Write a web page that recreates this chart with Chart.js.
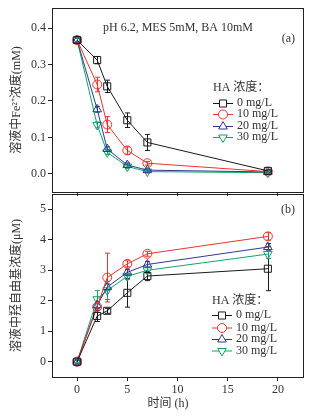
<!DOCTYPE html>
<html>
<head>
<meta charset="utf-8">
<script src="https://cdn.jsdelivr.net/npm/chart.js@4/dist/chart.umd.min.js"></script>
<style>
  body { margin: 0; background: #fff; }
  #wrap { position: relative; width: 316px; height: 416px; }
  .box { position: absolute; left: 0; width: 316px; }
</style>
</head>
<body>
<div id="wrap">
  <div class="box" style="top:0;height:198px"><canvas id="fe"></canvas></div>
  <div class="box" style="top:188px;height:228px"><canvas id="oh"></canvas></div>
</div>
<script>
// sampling times (h)
const times = [0, 2, 3, 5, 7, 19];
const seriesLabels = ['0 mg/L', '10 mg/L', '20 mg/L', '30 mg/L'];

// (a) dissolved Fe2+ (mM)
const fe0 = [0.367, 0.312, 0.240, 0.147, 0.086, 0.008];
const fe10 = [0.367, 0.245, 0.135, 0.064, 0.029, 0.006];
const fe20 = [0.367, 0.177, 0.068, 0.024, 0.010, 0.005];
const fe30 = [0.367, 0.134, 0.059, 0.020, 0.006, 0.003];
const fe0Err = [0.005, 0.010, 0.017, 0.020, 0.022, 0.004];
const fe10Err = [0.005, 0.020, 0.022, 0.010, 0.005, 0.003];
const fe20Err = [0.005, 0.008, 0.006, 0.006, 0.004, 0.003];
const fe30Err = [0.005, 0.008, 0.006, 0.006, 0.004, 0.003];

// (b) hydroxyl radical (uM)
const oh0 = [0, 1.50, 1.67, 2.26, 2.81, 3.05];
const oh10 = [0, 1.80, 2.76, 3.21, 3.54, 4.11];
const oh20 = [0, 1.85, 2.45, 2.93, 3.19, 3.76];
const oh30 = [0, 2.05, 2.34, 2.80, 3.00, 3.53];
const oh0Err = [0.05, 0.18, 0.08, 0.47, 0.15, 0.72];
const oh10Err = [0.05, 0.10, 0.80, 0.10, 0.08, 0.12];
const oh20Err = [0.05, 0.10, 0.10, 0.10, 0.10, 0.12];
const oh30Err = [0.05, 0.28, 0.30, 0.10, 0.10, 0.15];

const xTicks = [0, 5, 10, 15, 20];
const feTicks = [0, 0.1, 0.2, 0.3, 0.4];
const ohTicks = [0, 1, 2, 3, 4, 5];

const colors = ['#1a1a1a', '#e8342c', '#2e3a92', '#13a36a'];
const shapes = ['rect', 'circle', 'triangle', 'triangle'];
const turns = [0, 0, 0, 180];
const sizes = [5, 4.5, 5, 5];
const ink = '#222';
const serif = "'Liberation Serif', 'Noto Sans CJK SC', serif";

Chart.defaults.font.family = serif;
Chart.defaults.font.size = 12;
Chart.defaults.color = '#333';

function makeSets(values, errors) {
  return values.map((vals, i) => ({
    label: seriesLabels[i],
    data: vals.map((v, j) => ({ x: times[j], y: v })),
    errors: errors[i],
    borderColor: colors[i],
    borderWidth: 1,
    pointStyle: shapes[i],
    pointRotation: turns[i],
    pointRadius: sizes[i],
    pointHoverRadius: sizes[i],
    pointBorderColor: colors[i],
    pointBackgroundColor: 'rgba(0,0,0,0)',
    pointBorderWidth: 1,
    tension: 0
  }));
}

const errorBars = {
  id: 'errorBars',
  beforeDatasetsDraw(chart) {
    const { ctx, scales: { x, y } } = chart;
    chart.data.datasets.forEach(ds => {
      ctx.save();
      ctx.strokeStyle = ds.borderColor;
      ctx.lineWidth = 1;
      ds.data.forEach((p, j) => {
        const e = ds.errors[j];
        const px = Math.round(x.getPixelForValue(p.x)) + 0.5;
        const top = y.getPixelForValue(p.y + e);
        const bot = y.getPixelForValue(p.y - e);
        ctx.beginPath();
        ctx.moveTo(px, top); ctx.lineTo(px, bot);
        ctx.moveTo(px - 2.5, top); ctx.lineTo(px + 2.5, top);
        ctx.moveTo(px - 2.5, bot); ctx.lineTo(px + 2.5, bot);
        ctx.stroke();
      });
      ctx.restore();
    });
  }
};

const frame = {
  id: 'frame',
  afterDraw(chart) {
    const { ctx, chartArea: a } = chart;
    ctx.save();
    ctx.strokeStyle = ink;
    ctx.lineWidth = 1;
    ctx.strokeRect(Math.round(a.left) + 0.5, Math.round(a.top) + 0.5,
      Math.round(a.right - a.left), Math.round(a.bottom - a.top));
    ctx.restore();
  }
};

const notes = {
  id: 'notes',
  afterDraw(chart, args, opts) {
    const ctx = chart.ctx;
    (opts.items || []).forEach(t => {
      ctx.save();
      ctx.font = '12px ' + serif;
      ctx.fillStyle = '#333';
      ctx.textAlign = t.align || 'left';
      ctx.textBaseline = 'middle';
      ctx.fillText(t.text, t.x, t.y);
      ctx.restore();
    });
  }
};

const seriesKey = {
  id: 'seriesKey',
  afterDraw(chart, args, opts) {
    const ctx = chart.ctx;
    ctx.save();
    ctx.font = '12px ' + serif;
    ctx.fillStyle = '#333';
    ctx.textBaseline = 'middle';
    ctx.fillText('HA 浓度：', opts.x, opts.y);
    chart.data.datasets.forEach((ds, i) => {
      const ry = opts.rows[i];
      ctx.strokeStyle = ds.borderColor;
      ctx.lineWidth = 1;
      ctx.beginPath();
      ctx.moveTo(opts.x, ry + 0.5); ctx.lineTo(opts.x + 20, ry + 0.5);
      ctx.stroke();
      ctx.fillStyle = '#fff';
      Chart.helpers.drawPoint(ctx, {
        pointStyle: ds.pointStyle, rotation: ds.pointRotation,
        radius: ds.pointRadius, borderWidth: 1
      }, opts.x + 10, ry + 0.5);
      ctx.fillStyle = '#333';
      ctx.fillText(ds.label, opts.x + 24, ry);
    });
    ctx.restore();
  }
};

// no extra room for half tick labels: the plot edges are set by the layout padding
function noPad(s) {
  s.paddingTop = 0; s.paddingBottom = 0; s.paddingLeft = 0; s.paddingRight = 0;
}

function axisX(showLabels, height) {
  return {
    type: 'linear', min: -2.5, max: 22.5,
    afterBuildTicks: s => { s.ticks = xTicks.map(v => ({ value: v })); },
    afterFit: s => { s.height = height; noPad(s); },
    border: { display: true, color: ink, width: 1 },
    grid: { drawOnChartArea: false, drawTicks: true, tickLength: 4, color: ink },
    ticks: { display: showLabels, padding: 2, maxRotation: 0, color: '#333' }
  };
}

function axisY(min, max, tickVals, digits, title) {
  return {
    type: 'linear', min: min, max: max,
    afterBuildTicks: s => { s.ticks = tickVals.map(v => ({ value: v })); },
    afterFit: s => { s.width = 52; noPad(s); },
    border: { display: true, color: ink, width: 1 },
    grid: { drawOnChartArea: false, drawTicks: true, tickLength: 4, color: ink },
    ticks: { padding: 2, color: '#333', callback: v => Number(v).toFixed(digits) },
    title: { display: true, text: title, color: '#333', padding: { top: 10, bottom: 0 } }
  };
}

const common = {
  responsive: true,
  maintainAspectRatio: false,
  animation: false,
  events: [],
  plugins: { legend: { display: false }, tooltip: { enabled: false } }
};

new Chart(document.getElementById('fe'), {
  type: 'line',
  data: { datasets: makeSets([fe0, fe10, fe20, fe30], [fe0Err, fe10Err, fe20Err, fe30Err]) },
  options: {
    ...common,
    layout: { padding: { top: 8, right: 13, bottom: 0, left: 0 } },
    scales: {
      x: axisX(false, 4),
      y: axisY(-0.05, 0.455, feTicks, 1, '溶液中Fe²⁺浓度(mM)')
    },
    plugins: {
      ...common.plugins,
      notes: { items: [
        { text: 'pH 6.2, MES 5mM, BA 10mM', x: 178, y: 28, align: 'center' },
        { text: '(a)', x: 295, y: 39, align: 'right' }
      ] },
      seriesKey: { x: 213, y: 88, rows: [103, 114, 126, 137] }
    }
  },
  plugins: [errorBars, frame, notes, seriesKey]
});

new Chart(document.getElementById('oh'), {
  type: 'line',
  data: { datasets: makeSets([oh0, oh10, oh20, oh30], [oh0Err, oh10Err, oh20Err, oh30Err]) },
  options: {
    ...common,
    layout: { padding: { top: 1, right: 13, bottom: 0, left: 0 } },
    scales: {
      x: axisX(true, 39),
      y: axisY(-0.5, 5.5, ohTicks, 0, '溶液中羟自由基浓度(μM)')
    },
    plugins: {
      ...common.plugins,
      notes: { items: [
        { text: '(b)', x: 295, y: 22, align: 'right' },
        { text: '时间 (h)', x: 168, y: 216, align: 'center' }
      ] },
      seriesKey: { x: 212, y: 113, rows: [127, 139.5, 151, 162.5] }
    }
  },
  plugins: [errorBars, frame, notes, seriesKey]
});
</script>
</body>
</html>
